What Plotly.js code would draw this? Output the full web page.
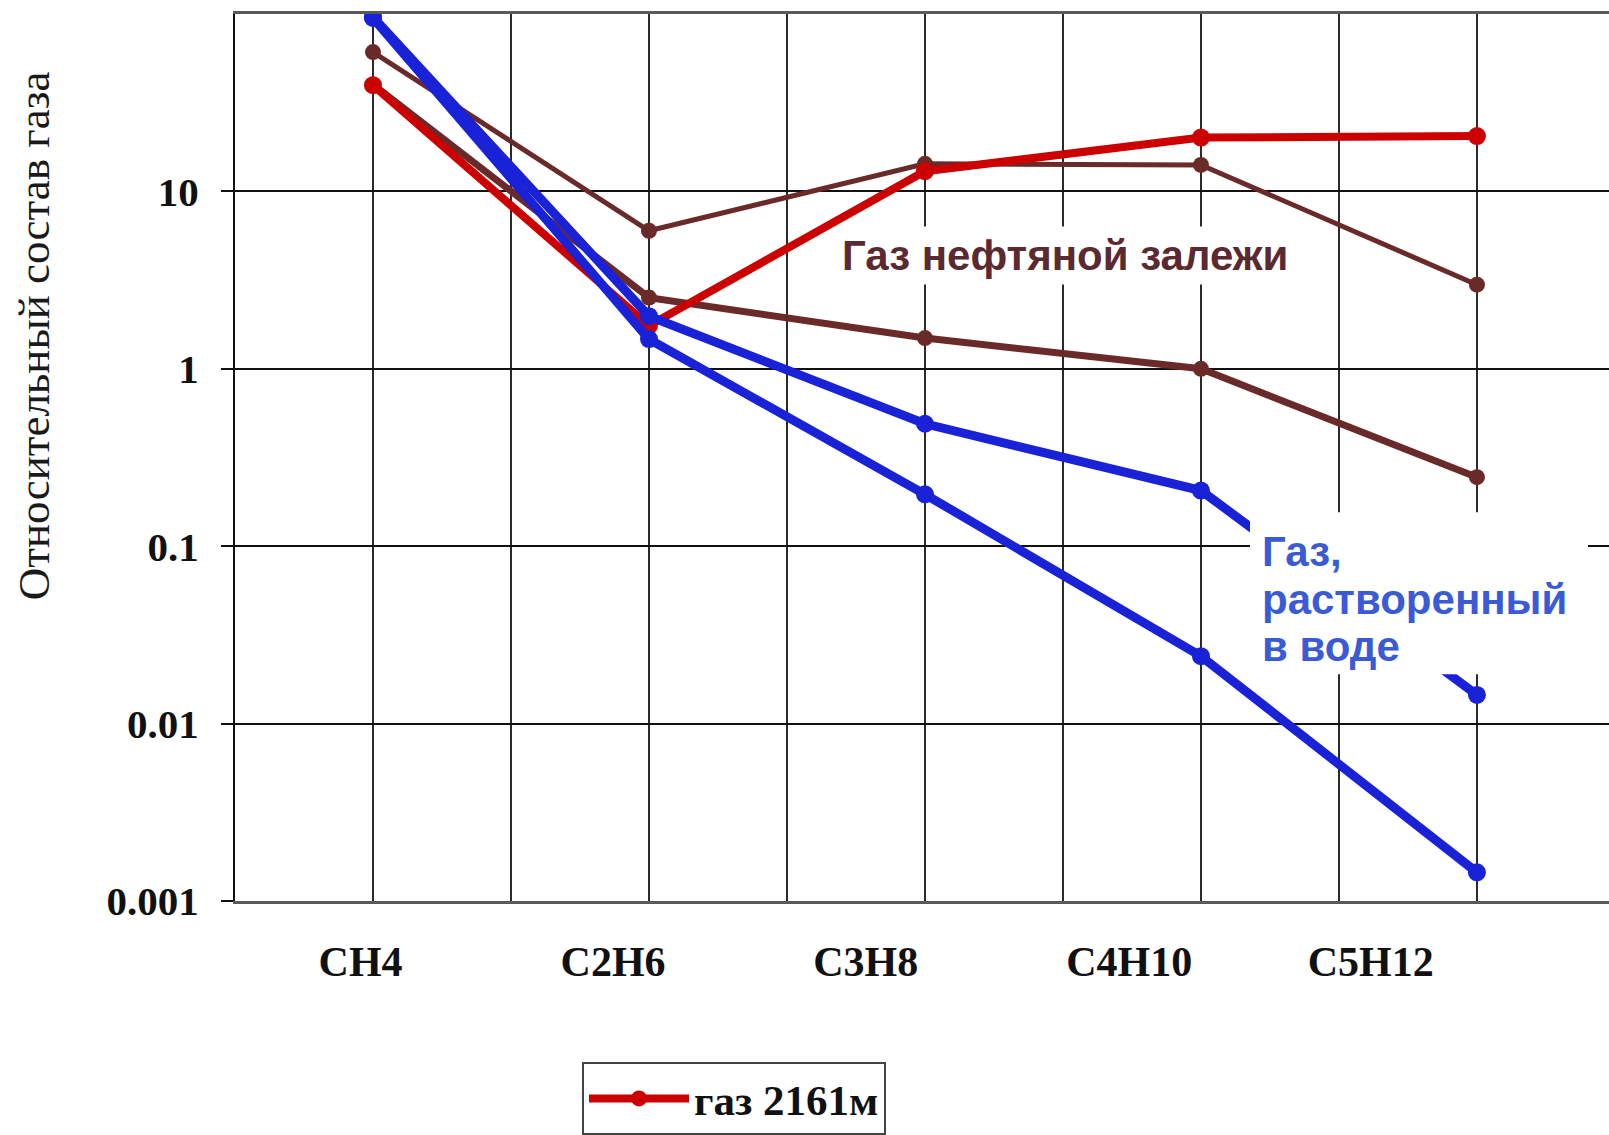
<!DOCTYPE html>
<html>
<head>
<meta charset="utf-8">
<script src="https://cdn.plot.ly/plotly-3.0.1.min.js"></script>
<style>
  html, body { margin: 0; padding: 0; background: #ffffff; }
  #chart { width: 1609px; height: 1135px; }
</style>
</head>
<body>
<div id="chart"></div>
<script>
// Hydrocarbon components and where each sits on the grid (grid step = 1)
const components = ['CH4', 'C2H6', 'C3H8', 'C4H10', 'C5H12'];
const componentX = [1, 3, 5, 7, 9];
const categoryLabelX = [0.91, 2.74, 4.57, 6.48, 8.23];

// Relative gas composition, log scale
const gas2161 = [39.7, 1.75, 13.0, 20.1, 20.5];
const oilGasUpper = [61, 6.0, 14.3, 14.1, 2.98];
const oilGasLower = [40, 2.52, 1.49, 1.0, 0.245];
const waterGasUpper = [96, 1.98, 0.49, 0.206, 0.0145];
const waterGasLower = [95, 1.47, 0.196, 0.024, 0.00145];

// Y axis ticks
const yTickVals = [0.001, 0.01, 0.1, 1, 10];
const yTickText = ['0.001', '0.01', '0.1', '1', '10'];

// Label texts
const yTitle = 'Относительный состав газа';
const oilLabel = 'Газ нефтяной залежи';
const waterLabelLines = ['Газ,', 'растворенный', 'в воде'];

const RED = '#cc0000';
const BLUE = '#1a22d8';
const BROWN = '#6b2a2a';

// Plot frame in pixels, used to turn pixel spots into paper fractions
const W = 1609, H = 1135;
const M = { l: 235, r: 0, t: 14, b: 229 };
const plotW = W - M.l - M.r;
const plotH = H - M.t - M.b;
const px = v => (v - M.l) / plotW;
const py = v => (H - M.b - v) / plotH;

function series(y, color, width, markerSize, name, showLegend) {
  return {
    type: 'scatter',
    mode: 'lines+markers',
    x: componentX,
    y: y,
    name: name,
    showlegend: showLegend,
    line: { color: color, width: width },
    marker: { color: color, size: markerSize },
    hoverinfo: 'skip'
  };
}

const traces = [
  series(oilGasUpper, BROWN, 5, 16, 'газ нефтяной залежи 1', false),
  series(oilGasLower, BROWN, 7, 16, 'газ нефтяной залежи 2', false),
  series(gas2161, RED, 8, 18, 'газ 2161м', true),
  series(waterGasUpper, BLUE, 9, 18, 'газ в воде 1', false),
  series(waterGasLower, BLUE, 9, 18, 'газ в воде 2', false)
];

const serif = 'Liberation Serif, Times New Roman, serif';
const sans = 'Liberation Sans, Arial, sans-serif';

const waterFont = { family: sans, size: 42, color: '#3a5bd5', weight: 'bold' };
const waterLineY = [555, 603, 650];

const annotations = [
  {
    xref: 'paper', yref: 'paper',
    x: px(34), y: py(338),
    xanchor: 'center', yanchor: 'middle',
    text: yTitle,
    textangle: -90,
    showarrow: false,
    font: { family: serif, size: 45, color: '#1a1a1a' }
  },
  {
    xref: 'paper', yref: 'paper',
    x: px(1065), y: py(257),
    xanchor: 'center', yanchor: 'middle',
    text: oilLabel,
    showarrow: false,
    bgcolor: '#ffffff',
    borderpad: 5,
    font: { family: sans, size: 42, color: '#5b2a30', weight: 'bold' }
  }
].concat(waterLabelLines.map((t, i) => ({
  xref: 'paper', yref: 'paper',
  x: px(1260), y: py(waterLineY[i]),
  xanchor: 'left', yanchor: 'middle',
  align: 'left',
  text: t,
  showarrow: false,
  font: waterFont
})));

const layout = {
  width: W,
  height: H,
  margin: M,
  paper_bgcolor: '#ffffff',
  plot_bgcolor: '#ffffff',
  showlegend: true,
  xaxis: {
    range: [0, 9.957],
    tickmode: 'array',
    tickvals: categoryLabelX,
    ticktext: components,
    ticks: '',
    showgrid: false,
    zeroline: false,
    showline: true,
    mirror: true,
    linecolor: '#5a5a5a',
    linewidth: 3,
    ticklabelstandoff: 22,
    tickfont: { family: serif, size: 42, color: '#111111', weight: 'bold' },
    minor: {
      tick0: 0,
      dtick: 1,
      showgrid: true,
      gridcolor: '#2a2a2a',
      gridwidth: 2,
      ticks: ''
    }
  },
  yaxis: {
    type: 'log',
    range: [-3, 2],
    tickmode: 'array',
    tickvals: yTickVals,
    ticktext: yTickText,
    ticks: 'outside',
    ticklen: 12,
    tickwidth: 2,
    tickcolor: '#111111',
    showgrid: true,
    gridcolor: '#111111',
    gridwidth: 2,
    zeroline: false,
    showline: true,
    linecolor: '#111111',
    linewidth: 2,
    ticklabelstandoff: 14,
    tickfont: { family: serif, size: 41, color: '#111111', weight: 'bold' },
    automargin: false
  },
  legend: {
    x: px(582),
    xanchor: 'left',
    y: py(1068),
    yanchor: 'top',
    bgcolor: '#ffffff',
    bordercolor: '#444444',
    borderwidth: 2,
    font: { family: serif, size: 43, color: '#111111', weight: 'bold' },
    itemwidth: 100
  },
  shapes: [
    {
      // white panel behind the dissolved-gas label
      type: 'rect',
      xref: 'paper', yref: 'paper',
      x0: px(1250), x1: px(1588),
      y0: py(678), y1: py(515),
      fillcolor: '#ffffff',
      line: { width: 0 },
      layer: 'above'
    }
  ],
  annotations: annotations
};

Plotly.newPlot('chart', traces, layout, { staticPlot: true, displayModeBar: false });
</script>
</body>
</html>
